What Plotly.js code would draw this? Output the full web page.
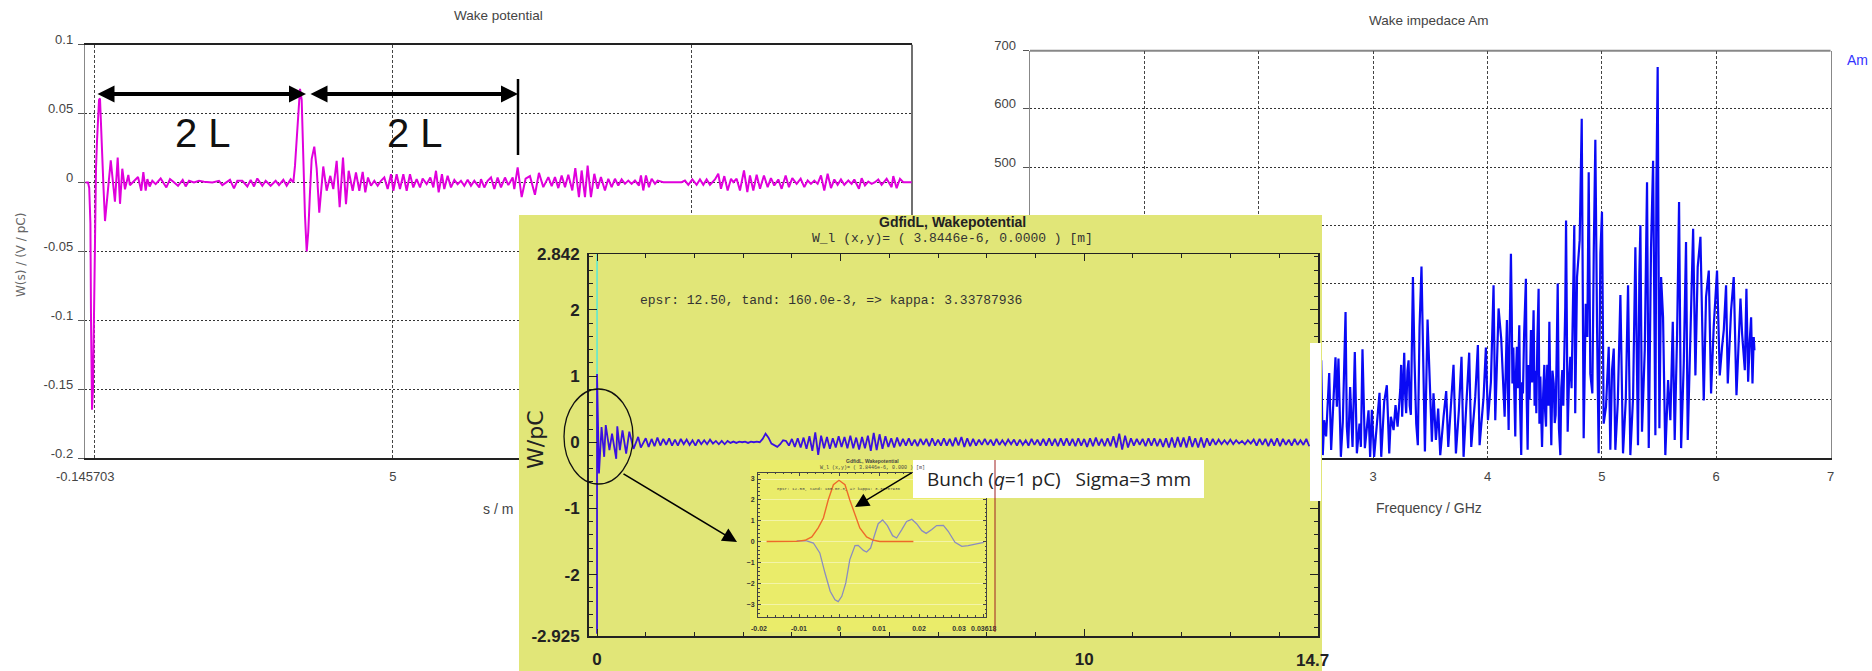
<!DOCTYPE html>
<html><head><meta charset="utf-8">
<script src="https://cdn.plot.ly/plotly-3.0.1.min.js"></script>
<style>html,body{margin:0;padding:0;background:#fff;overflow:hidden}#c{width:1872px;height:671px}</style>
</head><body><div id="c"></div>
<script>
const wakeS=[-0.146,-0.1,-0.08,-0.06,-0.05,-0.033,-0.017,0,0.017,0.033,0.05,0.067,0.084,0.1,0.134,0.16,0.184,0.23,0.28,0.35,0.396,0.435,0.473,0.518,0.574,0.6,0.66,0.736,0.79,0.825,0.864,0.892,0.931,0.975,1.031,1.115,1.21,1.271,1.327,1.405,1.483,1.533,1.589,1.672,1.756,1.839,1.979,2.09,2.146,2.274,2.341,2.397,2.48,2.564,2.62,2.676,2.731,2.815,2.871,2.954,3.038,3.094,3.166,3.222,3.289,3.333,3.361,3.39,3.416,3.445,3.473,3.49,3.512,3.528,3.557,3.583,3.612,3.64,3.684,3.724,3.767,3.834,3.891,3.952,4.002,4.058,4.108,4.164,4.214,4.259,4.326,4.381,4.437,4.493,4.537,4.582,4.632,4.688,4.744,4.799,4.855,4.911,4.967,5.006,5.061,5.117,5.173,5.229,5.284,5.34,5.396,5.452,5.496,5.563,5.624,5.675,5.719,5.764,5.819,5.858,5.914,5.97,6.026,6.081,6.137,6.193,6.249,6.304,6.36,6.444,6.472,6.527,6.583,6.639,6.695,6.75,6.806,6.873,6.929,7.002,7.029,7.085,7.152,7.218,7.291,7.374,7.441,7.514,7.598,7.654,7.709,7.765,7.821,7.877,7.932,7.999,8.049,8.11,8.155,8.211,8.255,8.311,8.367,8.423,8.478,8.545,8.601,8.657,8.712,8.768,8.824,8.88,8.935,8.991,9.047,9.114,9.147,9.186,9.231,9.281,9.326,9.382,9.426,9.521,9.66,9.827,9.883,9.939,10.006,10.078,10.134,10.19,10.245,10.301,10.385,10.44,10.485,10.541,10.597,10.653,10.692,10.747,10.803,10.87,10.926,10.97,11.026,11.082,11.138,11.204,11.266,11.321,11.377,11.444,11.5,11.567,11.622,11.678,11.751,11.818,11.879,11.935,11.99,12.046,12.102,12.158,12.213,12.269,12.325,12.381,12.436,12.492,12.548,12.615,12.67,12.715,12.793,12.838,12.893,12.949,13.005,13.061,13.116,13.172,13.256,13.339,13.367,13.423,13.479,13.534,13.674];
const wakeW=[0,0,-0.004,-0.03,-0.1,-0.165,-0.15,-0.08,-0.02,0.01,0.03,0.05,0.06,0.061,0.03,-0.005,-0.028,-0.005,0.016,-0.014,0.018,-0.0155,0.01,-0.005,0.0055,-0.002,0.001,0.004,-0.006,0.0075,-0.006,0.0024,-0.0029,0.0012,-0.0012,0.0029,-0.0036,0.0024,0.0005,-0.0024,0.0019,-0.0029,0.0012,0,0.0012,0.0005,0,0.0012,-0.0019,0.0019,-0.0043,0.0012,0.0012,-0.0029,0.0019,-0.0029,0.0029,-0.0024,0.0012,-0.0024,0.0012,-0.0019,0.0019,-0.0024,0.0024,0,0.012,0.03,0.053,0.068,0.06,0.03,-0.007,-0.024,-0.05,-0.036,-0.007,0.017,0.026,0.01,-0.022,0.0116,-0.006,0.0048,-0.0048,0.0157,-0.018,0.018,-0.0157,0.0085,-0.006,0.0072,-0.006,0.0077,-0.0072,0.0036,-0.0024,0.0012,-0.0024,0.0012,0.0036,-0.0048,0.006,-0.006,0.006,-0.0048,0.006,-0.006,0.006,-0.0036,0.0024,-0.0036,0.0029,-0.0012,0.0036,-0.0036,0.0085,-0.0072,0.006,-0.0048,0.0048,-0.0036,0.0019,-0.0012,0.0012,-0.0024,0.0019,-0.0024,0.0012,-0.0036,0.0024,-0.0036,0.0012,0.0036,-0.0048,0.0036,-0.0036,0.0036,-0.0019,0.0036,-0.0048,0.011,-0.0106,0.0027,0.0046,-0.0089,0.007,-0.0034,0.0039,-0.0027,0.0039,-0.0041,0.0051,-0.0034,0.0056,-0.0058,0.0104,-0.0106,0.0087,-0.0106,0.0123,-0.0106,0.0063,-0.0046,0.0039,-0.0058,0.0027,-0.0034,0.0027,-0.0022,0.0022,-0.001,0.0014,-0.001,0.0014,-0.0022,0.0051,-0.0058,0.0051,-0.0034,0.0027,-0.001,0.0014,0.0002,0.0002,0.0002,0.0014,-0.0017,0.0022,-0.0017,0.0022,-0.0017,0.0022,-0.0017,0.0022,0.0063,-0.0046,0.0046,-0.0058,0.0027,0.0002,0.0027,-0.0058,0.0087,-0.007,0.0051,-0.0058,0.0056,-0.0046,0.0051,-0.0034,0.0031,-0.0022,0.0022,-0.0046,0.0051,-0.0034,0.0031,-0.001,0.0027,-0.0034,0.0014,-0.001,0.0014,-0.001,0.0051,-0.0058,0.0063,-0.0041,0.0022,-0.0017,0.0022,-0.0017,0.0014,-0.001,0.0022,-0.0046,0.0031,-0.0022,0.0007,-0.001,0.0002,0.0022,-0.0017,0.0027,-0.0034,0.0046,-0.0041,0.0027,0.0002,0.0002];

const freqGHz=[2.546,2.56,2.572,2.589,2.616,2.633,2.648,2.671,2.683,2.697,2.718,2.735,2.759,2.77,2.782,2.799,2.82,2.84,2.858,2.881,2.893,2.907,2.928,2.96,2.974,2.989,3.009,3.033,3.056,3.071,3.097,3.12,3.141,3.155,3.179,3.196,3.214,3.237,3.245,3.254,3.262,3.272,3.28,3.289,3.3,3.31,3.32,3.33,3.338,3.348,3.362,3.377,3.391,3.406,3.423,3.435,3.453,3.476,3.493,3.514,3.528,3.549,3.569,3.587,3.616,3.639,3.657,3.68,3.703,3.724,3.75,3.773,3.791,3.814,3.84,3.858,3.893,3.916,3.931,3.966,3.986,4.004,4.03,4.053,4.068,4.097,4.12,4.15,4.17,4.178,4.185,4.193,4.2,4.205,4.212,4.218,4.226,4.235,4.243,4.25,4.257,4.265,4.272,4.278,4.285,4.295,4.303,4.31,4.32,4.328,4.336,4.343,4.351,4.36,4.368,4.38,4.39,4.403,4.412,4.42,4.427,4.436,4.447,4.454,4.462,4.47,4.477,4.487,4.497,4.504,4.512,4.518,4.523,4.532,4.541,4.55,4.558,4.568,4.579,4.588,4.596,4.605,4.614,4.625,4.637,4.645,4.654,4.663,4.672,4.68,4.687,4.694,4.701,4.712,4.724,4.735,4.745,4.752,4.759,4.767,4.783,4.806,4.824,4.841,4.859,4.873,4.885,4.899,4.917,4.929,4.943,4.958,4.972,4.987,5.001,5.016,5.036,5.06,5.074,5.089,5.104,5.118,5.139,5.162,5.185,5.209,5.229,5.249,5.273,5.293,5.316,5.328,5.337,5.351,5.375,5.395,5.41,5.43,5.448,5.468,5.477,5.488,5.503,5.518,5.535,5.555,5.579,5.599,5.62,5.637,5.658,5.675,5.693,5.716,5.736,5.751,5.774,5.798,5.818,5.838,5.862,5.882,5.891,5.911,5.935,5.955,5.978,6.007,6.031,6.051,6.066,6.086,6.101,6.13,6.153,6.177,6.2,6.212,6.226,6.25,6.264,6.279,6.293,6.305,6.317,6.328,6.334];
const impedAm=[168,5,65,37,146,14,77,173,88,171,2,62,251,54,17,122,19,182,8,59,19,187,17,82,2,83,2,62,112,2,97,125,8,71,48,91,54,117,160,71,130,181,110,77,150,168,90,74,180,311,168,59,22,225,329,197,11,238,145,28,111,31,85,5,71,115,19,82,160,8,82,174,2,88,181,19,105,194,22,105,190,65,131,297,65,257,205,71,237,120,48,200,290,351,250,128,190,60,37,150,191,120,200,228,90,5,130,111,210,270,308,100,14,160,100,220,130,254,90,150,77,200,291,59,140,70,19,110,160,80,54,130,160,90,234,100,22,150,128,60,74,180,300,50,5,120,151,90,185,260,408,120,45,130,174,120,260,310,400,77,311,374,583,34,265,208,491,145,111,351,547,225,8,351,423,59,88,191,14,151,188,14,94,280,8,99,297,5,105,362,22,317,400,45,185,474,17,362,511,39,471,672,51,311,242,5,134,65,234,31,214,440,17,162,371,31,220,394,142,328,380,197,99,277,322,111,225,322,142,191,220,297,128,254,311,108,214,274,214,151,291,131,202,242,128,208,185];

const gdfidlS=[0,0,0.04,0.093,0.147,0.179,0.255,0.308,0.394,0.416,0.469,0.523,0.598,0.663,0.749,0.845,0.899,
1,1.06,1.12,1.18,1.24,1.3,1.36,1.42,1.48,1.54,
1.6,1.66,1.72,1.78,1.84,1.9,1.96,2.02,2.08,2.14,
2.2,2.26,2.32,2.38,2.44,2.5,2.56,2.62,2.68,2.74,
2.8,2.86,2.92,2.98,3.04,3.1,3.16,3.22,3.28,3.34,
3.4,3.46,3.52,3.58,3.64,3.7,3.76,3.82,3.88,3.94,
4,4.06,4.12,4.18,4.24,4.3,4.36,4.42,4.48,4.54,
4.6,4.66,4.72,4.78,4.84,4.9,4.96,5.02,5.08,5.14,
5.2,5.26,5.32,5.38,5.44,5.5,5.56,5.62,5.68,5.74,
5.8,5.86,5.92,5.98,6.04,6.1,6.16,6.22,6.28,6.34,
6.4,6.46,6.52,6.58,6.64,6.7,6.76,6.82,6.88,6.94,
7,7.06,7.12,7.18,7.24,7.3,7.36,7.42,7.48,7.54,
7.6,7.66,7.72,7.78,7.84,7.9,7.96,8.02,8.08,8.14,
8.2,8.26,8.32,8.38,8.44,8.5,8.56,8.62,8.68,8.74,
8.8,8.86,8.92,8.98,9.04,9.1,9.16,9.22,9.28,9.34,
9.4,9.46,9.52,9.58,9.64,9.7,9.76,9.82,9.88,9.94,
10,10.06,10.12,10.18,10.24,10.3,10.36,10.42,10.48,10.54,
10.6,10.66,10.72,10.78,10.84,10.9,10.96,11.02,11.08,11.14,
11.2,11.26,11.32,11.38,11.44,11.5,11.56,11.62,11.68,11.74,
11.8,11.86,11.92,11.98,12.04,12.1,12.16,12.22,12.28,12.34,
12.4,12.46,12.52,12.58,12.64,12.7,12.76,12.82,12.88,12.94,
13,13.06,13.12,13.18,13.24,13.3,13.36,13.42,13.48,13.54,
13.6,13.66,13.72,13.78,13.84,13.9,13.96,14.02,14.08,14.14,
14.2,14.26,14.32,14.38,14.44,14.5,14.56,14.62];
const gdfidlW=[-2.89,1.03,-0.47,0.23,-0.22,0.26,-0.12,0.13,-0.25,0.24,-0.12,0.18,-0.17,0.16,-0.1,0.08,-0.08,
.06,-.07,.05,-.06,.07,-.05,.05,-.04,.06,-.05,
.04,-.05,.05,-.03,.04,-.04,.03,-.05,.04,-.03,
.03,-.03,.04,-.02,.02,-.03,.02,-.03,.02,-.01,
.01,-.01,.01,0,.01,-.01,.01,0,.01,0,
.05,.13,.07,-.02,-.05,-.07,-.03,.03,.02,-.05,
.05,-.07,.06,-.08,.07,-.1,.09,-.13,.15,-.19,
.1,-.09,.08,-.1,.06,-.08,.09,-.07,.08,-.09,
.1,-.09,.07,-.11,.08,-.09,.1,-.13,.14,-.12,
.12,-.1,.09,-.07,.06,-.08,.07,-.06,.05,-.05,
.06,-.05,.04,-.06,.05,-.04,.05,-.06,.06,-.05,
.04,-.05,.06,-.05,.05,-.06,.07,-.05,.08,-.07,
.06,-.06,.05,-.05,.04,-.04,.05,-.04,.04,-.05,
.05,-.04,.03,-.04,.04,-.03,.04,-.05,.04,-.04,
.03,-.05,.05,-.04,.04,-.05,.05,-.05,.06,-.05,
.05,-.06,.06,-.05,.06,-.05,.05,-.06,.06,-.05,
.05,-.07,.06,-.06,.07,-.05,.05,-.06,.06,-.06,
.09,-.08,.13,-.11,.1,-.08,.06,-.05,.05,-.04,
.05,-.06,.06,-.05,.06,-.06,.05,-.07,.06,-.08,
.07,-.08,.08,-.07,.07,-.08,.09,-.07,.06,-.08,
.07,-.08,.06,-.05,.05,-.04,.04,-.03,.03,-.03,
.04,-.03,.03,-.02,.02,-.03,.03,-.02,.04,-.05,
.05,-.04,.05,-.06,.05,-.05,.06,-.06,.05,-.04,
.04,-.05,.05,-.04,.03,-.04,.05,-.06];
const cyanS=[0,0], cyanW=[2.842,0.05];

const insetS=[-0.0106,-0.0081,-0.0064,-0.0048,-0.0035,-0.0022,-0.001,-0.0002,0.0007,0.0017,0.0027,0.004,0.0048,0.0061,0.0069,0.0079,0.0088,0.0098,0.0109,0.0121,0.0134,0.0144,0.0157,0.0169,0.0182,0.0194,0.0207,0.0218,0.0232,0.0244,0.0261,0.0273,0.029,0.0307,0.0323,0.0344,0.0362];
const insetW=[0.05,0.05,-0.05,-0.52,-1.48,-2.35,-2.75,-2.84,-2.59,-1.95,-0.84,-0.17,-0.16,-0.4,-0.48,-0.29,0.27,0.87,1.05,0.78,0.3,0.19,0.59,0.98,1.08,0.87,0.54,0.41,0.59,0.78,0.79,0.51,-0.02,-0.21,-0.17,-0.08,-0.02];
const bunchS=[-0.0181,-0.0106,-0.0085,-0.0068,-0.0052,-0.0039,-0.0027,-0.0014,0,0.0015,0.0027,0.004,0.0052,0.0069,0.0086,0.0102,0.0186];
const bunchQ=[0.02,0.03,0.08,0.24,0.67,1.14,2.0,2.73,2.94,2.73,2.0,1.3,0.67,0.24,0.08,0.02,0.02];

const wakeTicks=[-0.2,-0.15,-0.1,-0.05,0,0.05,0.1];
const wakeTickText=['-0.2','-0.15','-0.1','-0.05','0','0.05','0.1'];
const sTicks=[-0.145703,0,5,10];
const sTickText=['-0.145703','','5','10'];
const impTicks=[0,100,200,300,400,500,600,700];
const freqTicks=[0,1,2,3,4,5,6,7];
const gdfYTicks=[-2.925,-2,-1,0,1,2,2.842];
const gdfYText=['-2.925','-2','-1','0','1','2','2.842'];
const gdfXTicks=[0,5,10];
const gdfXText=['0','','10'];
const insetXTicks=[-0.02,-0.01,0,0.01,0.02,0.03,0.03618];
const insetXText=['-0.02','-0.01','0','0.01','0.02','0.03','0.03618'];
const insetYTicks=[-3,-2,-1,0,1,2,3];

const PX=x=>x/1872, PY=y=>1-y/671;
const dx=(a,b)=>[PX(a),PX(b)], dy=(top,bot)=>[PY(bot),PY(top)];
const NARROW='"Liberation Sans",sans-serif';
const MONO='"Liberation Mono","DejaVu Sans Mono",monospace';

const hidden={visible:false,range:[0,1],fixedrange:true};
const layout={
 width:1872,height:671,margin:{l:0,r:0,t:0,b:0},autosize:false,
 paper_bgcolor:'#fff',plot_bgcolor:'rgba(0,0,0,0)',showlegend:false,
 xaxis:{domain:dx(85.3,912),range:[-0.145703,13.68],anchor:'y',tickmode:'array',tickvals:sTicks,ticktext:sTickText,
  showgrid:true,gridcolor:'#444',griddash:'3px,2px',gridwidth:1,zeroline:false,showline:true,linecolor:'#222',linewidth:1.5,mirror:true,
  ticks:'',tickfont:{family:NARROW,size:13,color:'#444'},ticklabelstandoff:6},
 yaxis:{domain:dy(44.7,458),range:[-0.2,0.1],anchor:'x',tickmode:'array',tickvals:wakeTicks,ticktext:wakeTickText,
  showgrid:true,gridcolor:'#333',griddash:'2px,2px',gridwidth:1,zeroline:false,showline:true,linecolor:'#888',linewidth:1.5,
  ticks:'outside',ticklen:6,tickcolor:'#555',tickfont:{family:NARROW,size:13,color:'#444'},ticklabelstandoff:2,ticklabelshift:-5},
 xaxis2:{domain:dx(1030,1830.6),range:[0,7],anchor:'y2',tickmode:'array',tickvals:freqTicks,
  showgrid:true,gridcolor:'#444',griddash:'3px,2px',gridwidth:1,zeroline:false,showline:true,linecolor:'#222',linewidth:1.5,
  ticks:'',tickfont:{family:NARROW,size:13,color:'#444'},ticklabelstandoff:6},
 yaxis2:{domain:dy(50.7,458),range:[0,700],anchor:'x2',tickmode:'array',tickvals:impTicks,
  showgrid:true,gridcolor:'#333',griddash:'2px,2px',gridwidth:1,zeroline:false,showline:true,linecolor:'#888',linewidth:1.5,mirror:true,
  ticks:'outside',ticklen:6,tickcolor:'#555',tickfont:{family:NARROW,size:13,color:'#444'},ticklabelstandoff:4,ticklabelshift:-5},
 xaxis3:Object.assign({domain:dx(519,1322),anchor:'y3'},hidden),
 yaxis3:Object.assign({domain:dy(215,671),anchor:'x3'},hidden),
 xaxis4:{domain:dx(588.5,1318),range:[-0.175,14.8],anchor:'y4',tickmode:'array',tickvals:gdfXTicks,ticktext:gdfXText,
  showgrid:false,zeroline:false,showline:true,linecolor:'#222',linewidth:1.5,mirror:'ticks',ticks:'inside',ticklen:7,tickcolor:'#222',
  minor:{dtick:1,ticks:'inside',ticklen:4,tickcolor:'#222',showgrid:false},
  tickfont:{family:NARROW,size:17,color:'#222',weight:'bold'},ticklabelstandoff:7},
 yaxis4:{domain:dy(254,636),range:[-2.925,2.842],anchor:'x4',tickmode:'array',tickvals:gdfYTicks,ticktext:gdfYText,
  showgrid:false,zeroline:false,showline:true,linecolor:'#222',linewidth:1.5,mirror:'ticks',ticks:'inside',ticklen:8,tickcolor:'#222',
  minor:{dtick:0.2,ticks:'inside',ticklen:4,tickcolor:'#222',showgrid:false},
  tickfont:{family:NARROW,size:17,color:'#222',weight:'bold'},ticklabelstandoff:4},
 xaxis5:Object.assign({domain:dx(750,995),anchor:'y5'},hidden),
 yaxis5:Object.assign({domain:dy(460,632),anchor:'x5'},hidden),
 xaxis6:{domain:dx(758,986),range:[-0.02025,0.03675],anchor:'y6',tickmode:'array',tickvals:insetXTicks,ticktext:insetXText,
  showgrid:false,zeroline:false,showline:true,linecolor:'#444',linewidth:1,mirror:'ticks',ticks:'inside',ticklen:3,tickcolor:'#444',
  minor:{dtick:0.002,ticks:'inside',ticklen:1.5,tickcolor:'#444',showgrid:false},
  tickfont:{family:NARROW,size:7,color:'#333',weight:'bold'},ticklabelstandoff:5},
 yaxis6:{domain:dy(472.7,616.7),range:[-3.56,3.3],anchor:'x6',tickmode:'array',tickvals:insetYTicks,
  showgrid:true,gridcolor:'#F3F4A8',gridwidth:1,zeroline:false,showline:true,linecolor:'#444',linewidth:1,mirror:'ticks',ticks:'inside',ticklen:3,tickcolor:'#444',
  minor:{dtick:0.2,ticks:'inside',ticklen:1.5,tickcolor:'#444',showgrid:false},
  tickfont:{family:NARROW,size:7,color:'#333',weight:'bold'},ticklabelstandoff:1},
 shapes:[
  {type:'line',xref:'paper',yref:'paper',x0:PX(912),x1:PX(912),y0:PY(44.7),y1:PY(458),line:{color:'#111',width:1.2},layer:'below'},
  {type:'line',xref:'paper',yref:'paper',x0:PX(1030),x1:PX(1830.6),y0:PY(50.7),y1:PY(50.7),line:{color:'#888',width:2},layer:'below'},
  {type:'rect',xref:'paper',yref:'paper',x0:PX(1310),x1:PX(1321),y0:PY(501),y1:PY(343),fillcolor:'#fff',line:{width:0},layer:'above'},
  {type:'rect',xref:'paper',yref:'paper',x0:PX(913),x1:PX(1204),y0:PY(498),y1:PY(460),fillcolor:'#fff',line:{width:0},layer:'above'},
  {type:'circle',xref:'paper',yref:'paper',x0:PX(564),x1:PX(633),y0:PY(484),y1:PY(389),line:{color:'#111',width:1.3},layer:'above'},
  {type:'line',xref:'paper',yref:'paper',x0:PX(995),x1:PX(995),y0:PY(460),y1:PY(632),line:{color:'#A02020',width:1},layer:'above'},
  {type:'line',xref:'paper',yref:'paper',x0:PX(518),x1:PX(518),y0:PY(79),y1:PY(155),line:{color:'#000',width:2.5},layer:'above'}
 ],
 annotations:[]
};
function note(text,x,y,size,color,family,extra){
 layout.annotations.push(Object.assign({text:text,xref:'paper',yref:'paper',x:PX(x),y:PY(y),showarrow:false,
  font:{size:size,color:color,family:family},xanchor:'center',yanchor:'middle'},extra||{}));
}
function arrow(x0,y0,x1,y1,w,side,head,size){
 layout.annotations.push({text:' ',xref:'paper',yref:'paper',x:PX(x1),y:PY(y1),ax:x0-x1,ay:y0-y1,showarrow:true,
  arrowhead:head,arrowside:side,arrowwidth:w,arrowsize:size,arrowcolor:'#000',standoff:0,startstandoff:0,font:{size:1}});
}
note('Wake potential',498,15,13.5,'#444',NARROW);
note('Wake impedace Am',1429,21,13.5,'#444',NARROW);
note('s / m',498,509,14,'#444',NARROW);
note('Frequency / GHz',1429,508,14,'#444',NARROW);
note('W(s) / (V / pC)',21,255,12,'#666','"DejaVu Sans",sans-serif',{textangle:-90});
note('Am',1845,60,14,'#3333ff',NARROW,{xanchor:'left'});
note('2 L',203,133,40,'#111','"Liberation Sans",sans-serif');
note('2 L',415,133,40,'#111','"Liberation Sans",sans-serif');
note('<b>GdfidL, Wakepotential</b>',952,222,14,'#222','"Liberation Sans",sans-serif');
note('W_l (x,y)= ( 3.8446e-6, 0.0000 ) [m]',952,239,13,'#333',MONO);
note('epsr: 12.50, tand: 160.0e-3, =&gt; kappa: 3.33787936',638,301,13,'#333',MONO,{xanchor:'left'});
note('W/pC',536,440,22,'#222','"DejaVu Sans",sans-serif',{textangle:-90});
note('<b>14.7</b>',1294,660,17,'#222',NARROW,{xanchor:'left'});
note('Bunch (<i>q</i>=1 pC)   Sigma=3 mm',1059,479,19,'#222','"Open Sans",sans-serif');
note('<b>GdfidL, Wakepotential</b>',872,461,5,'#444','"Liberation Sans",sans-serif');
note('W_l (x,y)= ( 3.8446e-6, 0.000 ) [m]',872,468,5,'#444',MONO);
note('epsr: 12.50, tand: 160.0e-3, =&gt; kappa: 3.33787936',775,489,4.2,'#444',MONO,{xanchor:'left'});
arrow(96,94,306,94,4,'end+start',2,0.85);
arrow(309,94,518,94,4,'end+start',2,0.85);
arrow(622,473,737,542,1.6,'end',2,1.8);
arrow(913,472,855,507,1.4,'end',2,2);

const skip={hoverinfo:'skip',showlegend:false};
const traces=[
 Object.assign({x:wakeS,y:wakeW,xaxis:'x',yaxis:'y',mode:'lines',line:{color:'#E000DC',width:2}},skip),
 Object.assign({x:freqGHz,y:impedAm,xaxis:'x2',yaxis:'y2',mode:'lines',line:{color:'#0A0AF5',width:2.2}},skip),
 Object.assign({x:[0,1,1,0,0],y:[0,0,1,1,0],xaxis:'x3',yaxis:'y3',mode:'none',fill:'toself',fillcolor:'#E1E678'},skip),
 Object.assign({x:cyanS,y:cyanW,xaxis:'x4',yaxis:'y4',mode:'lines',line:{color:'#40E8E8',width:1.3}},skip),
 Object.assign({x:gdfidlS,y:gdfidlW,xaxis:'x4',yaxis:'y4',mode:'lines',line:{color:'#3A10E0',width:1.8}},skip),
 Object.assign({x:[0,1,1,0,0],y:[0,0,1,1,0],xaxis:'x5',yaxis:'y5',mode:'none',fill:'toself',fillcolor:'#EAEC6A'},skip),
 Object.assign({x:insetS,y:insetW,xaxis:'x6',yaxis:'y6',mode:'lines',line:{color:'#8A8CC0',width:1.3}},skip),
 Object.assign({x:bunchS,y:bunchQ,xaxis:'x6',yaxis:'y6',mode:'lines',line:{color:'#EE6A2A',width:1.4}},skip)
];
Plotly.newPlot('c',traces,layout,{staticPlot:true,displayModeBar:false});
</script></body></html>
